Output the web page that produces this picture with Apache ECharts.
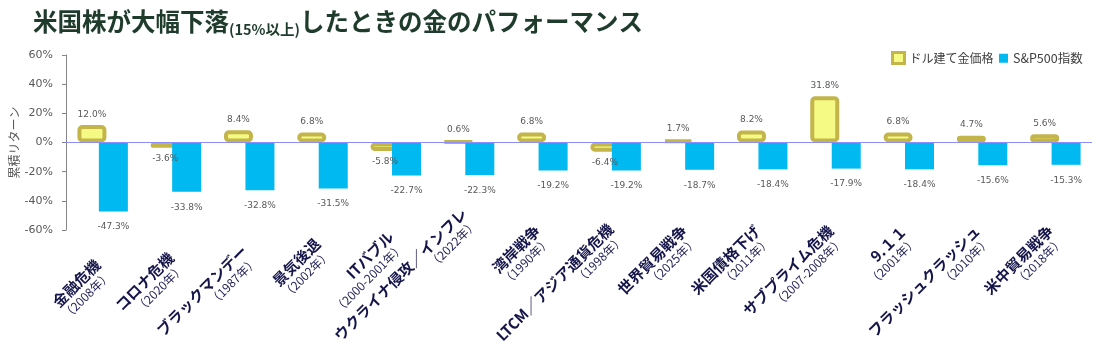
<!DOCTYPE html>
<html><head><meta charset="utf-8">
<script src="https://cdn.jsdelivr.net/npm/echarts@6/dist/echarts.min.js"></script>
<style>html,body{margin:0;padding:0;background:#fff}#c{width:1100px;height:357px}</style>
</head><body><div id="c"></div>
<script>
const categories = ['金融危機','コロナ危機','ブラックマンデー','景気後退','ITバブル','ウクライナ侵攻／インフレ','湾岸戦争','LTCM／アジア通貨危機','世界貿易戦争','米国債格下げ','サブプライム危機','9.１１','フラッシュクラッシュ','米中貿易戦争'];
const periods = ['2008年','2020年','1987年','2002年','2000-2001年','2022年','1990年','1998年','2025年','2011年','2007-2008年','2001年','2010年','2018年'];
const goldReturns = [12.0,-3.6,8.4,6.8,-5.8,0.6,6.8,-6.4,1.7,8.2,31.8,6.8,4.7,5.6];
const spxReturns = [-47.3,-33.8,-32.8,-31.5,-22.7,-22.3,-19.2,-19.2,-18.7,-18.4,-17.9,-18.4,-15.6,-15.3];
const yMin = -60, yMax = 60, yStep = 20;
const seriesNames = ['ドル建て金価格','S&P500指数'];

const JP = '"Noto Sans CJK JP","Noto Sans",sans-serif';
const NUM = '"DejaVu Sans",Verdana,sans-serif';
const GOLD_FILL = '#F5FA85', GOLD_BORDER = '#C3B54A', BLUE = '#00B9F1';

// Rotated two-line category labels. In the original the label tops step
// slightly upward from left to right; each label is pushed straight down by a
// shift derived from that rule and its measured length (kept inside the page).
const H = 357, GRID_BOTTOM = 127, LABEL_MARGIN = -20;
const NAME_FS = 15, YEAR_FS = 12, NAME_LH = 17, YEAR_LH = 14;
const TOP_START = 256, TOP_STEP = 7, TOP_MIN = 222, BAND_BOTTOM = 354;
const ctx = document.createElement('canvas').getContext('2d');
const tw = (t, f) => { ctx.font = f; return ctx.measureText(t).width; };
const anchorY = H - GRID_BOTTOM + LABEL_MARGIN;
const K = Math.SQRT1_2;
const nameStyle = {fontFamily: JP, fontSize: NAME_FS, fontWeight: 'bold', color: '#15154A', lineHeight: NAME_LH};
const yearStyle = {fontFamily: JP, fontSize: YEAR_FS, color: '#25255A', lineHeight: YEAR_LH};
const rich = {};
const labelText = categories.map((c, i) => {
  const yr = '（' + periods[i] + '）';
  const L = Math.max(tw(c, 'bold ' + NAME_FS + 'px ' + JP), tw(yr, YEAR_FS + 'px ' + JP));
  const bh = NAME_LH + YEAR_LH;
  const wantTop = Math.max(TOP_MIN, TOP_START - TOP_STEP * i);
  const d = Math.max(0, Math.min(wantTop - anchorY + K * bh / 2, BAND_BOTTOM - anchorY - K * L - K * bh / 2));
  const shiftAlong = K * d, extraTop = Math.SQRT2 * d;
  rich['n' + i] = Object.assign({}, nameStyle, {padding: [0, shiftAlong, 0, 0]});
  rich['p' + i] = Object.assign({}, yearStyle, {padding: [0, shiftAlong, 0, 0]});
  let s = '';
  if (extraTop > 0.5) {
    rich['s' + i] = {fontSize: 1, lineHeight: extraTop};
    s = '{s' + i + '| }\n';
  }
  return s + '{n' + i + '|' + c + '}\n{p' + i + '|' + yr + '}';
});

const chart = echarts.init(document.getElementById('c'), null, {renderer:'canvas'});
const pct = v => v.toFixed(1) + '%';

chart.setOption({
  animation: false,
  backgroundColor: '#fff',
  title: {
    left: 28, top: 1,
    text: '{a|米国株が大幅下落}{b|(15%以上)}{a|したときの金のパフォーマンス}',
    textStyle: {
      rich: {
        a: {fontFamily: JP, fontSize: 24.5, fontWeight: 'bold', color: '#1F3B2B', lineHeight: 31},
        b: {fontFamily: JP, fontSize: 14.5, fontWeight: 'bold', color: '#1F3B2B', lineHeight: 23, verticalAlign: 'bottom'}
      }
    }
  },
  legend: [
    {
      left: 886, top: 46, itemWidth: 12, itemHeight: 11, icon: 'rect',
      data: [{name: seriesNames[0], itemStyle: {color: GOLD_FILL, borderColor: GOLD_BORDER, borderWidth: 3}}],
      textStyle: {fontFamily: JP, fontSize: 12, color: '#404040'}
    },
    {
      left: 994, top: 47, itemWidth: 9, itemHeight: 9, icon: 'rect',
      data: [{name: seriesNames[1], itemStyle: {color: BLUE, borderWidth: 0}}],
      textStyle: {fontFamily: JP, fontSize: 12.5, color: '#404040'}
    }
  ],
  grid: {left: 66, right: 8, top: 55, bottom: GRID_BOTTOM, containLabel: false, outerBoundsMode: 'none'},
  xAxis: {
    type: 'category',
    data: categories,
    axisLine: {show: false, onZero: false},
    axisTick: {show: false},
    axisLabel: {
      interval: 0, rotate: 45, margin: LABEL_MARGIN, hideOverlap: false,
      formatter: (v, i) => labelText[i],
      rich: rich
    }
  },
  yAxis: {
    type: 'value', min: yMin, max: yMax, interval: yStep,
    name: '累積リターン', nameLocation: 'middle', nameGap: 46, nameRotate: 90, nameMoveOverlap: false,
    nameTextStyle: {fontFamily: JP, fontSize: 12, color: '#595959'},
    axisLine: {show: true, lineStyle: {color: '#868686', width: 1}},
    axisTick: {show: true, length: 4, lineStyle: {color: '#868686'}},
    splitLine: {show: false},
    axisLabel: {formatter: '{value}%', fontFamily: NUM, fontSize: 11, color: '#595959', margin: 13}
  },
  series: [
    {
      name: seriesNames[0], type: 'bar', barWidth: 29, barGap: '-26%',
      itemStyle: {color: GOLD_FILL, borderColor: GOLD_BORDER, borderWidth: 4, borderRadius: 3},
      data: goldReturns.map(v => ({value: v, label: {position: v >= 0 ? 'top' : 'bottom'}})),
      label: {show: true, distance: 6, formatter: p => pct(p.value), fontFamily: NUM, fontSize: 9, color: '#595959'},
      markLine: {
        silent: true, symbol: 'none', label: {show: false},
        lineStyle: {color: '#8C8CFF', width: 1, type: 'solid'},
        data: [{yAxis: 0}], z: 10
      }
    },
    {
      name: seriesNames[1], type: 'bar', barWidth: 29,
      itemStyle: {color: BLUE},
      data: spxReturns,
      label: {show: true, position: 'bottom', distance: 11, formatter: p => pct(p.value), fontFamily: NUM, fontSize: 9, color: '#595959'}
    }
  ]
});
</script></body></html>
